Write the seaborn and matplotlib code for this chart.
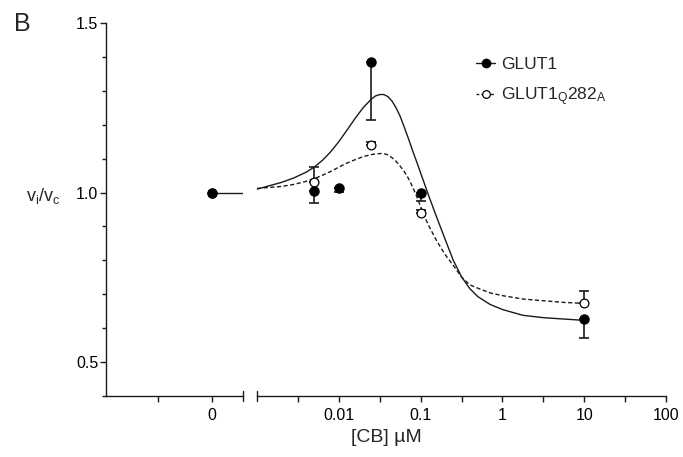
import numpy as np
import pandas as pd
import matplotlib
matplotlib.use("Agg")
import matplotlib.pyplot as plt
from matplotlib.lines import Line2D
from matplotlib.ticker import FixedLocator, FixedFormatter, LogLocator, MultipleLocator, NullFormatter
import seaborn as sns

# ---- data -------------------------------------------------------------
series_names = ["GLUT1", "GLUT1$_\\mathrm{Q}$282$_\\mathrm{A}$"]

# measured transport ratios vs cytochalasin B (µM)
conc_wt = [0.005, 0.01, 0.025, 0.1, 10]
ratio_wt = [1.005, 1.012, 1.385, 1.0, 0.626]
sem_wt = [0.037, 0.010, 0.170, 0.025, 0.055]

conc_mut = [0.005, 0.025, 0.1, 10]
ratio_mut = [1.03, 1.14, 0.94, 0.673]
sem_mut = [0.044, 0.008, 0.010, 0.037]

# no-inhibitor controls
control_conc = [0]
control_wt = [1.0]
control_mut = [1.0]

# fitted curves, log10 of concentration (µM)
fit_log_conc = [-3.0, -2.7, -2.55, -2.4, -2.3, -2.2, -2.1, -2.0, -1.9, -1.8,
                -1.7, -1.6, -1.55, -1.5, -1.45, -1.4, -1.35, -1.3, -1.25, -1.2,
                -1.15, -1.1, -1.05, -1.0, -0.95, -0.9, -0.8, -0.7, -0.6, -0.5,
                -0.4, -0.3, -0.15, 0.0, 0.25, 0.5, 0.75, 1.0]
fit_wt = [1.010, 1.030, 1.043, 1.060, 1.075, 1.095, 1.120, 1.150, 1.184, 1.219,
          1.251, 1.276, 1.285, 1.289, 1.289, 1.283, 1.270, 1.250, 1.225, 1.193,
          1.160, 1.125, 1.092, 1.058, 1.024, 0.990, 0.925, 0.862, 0.800, 0.752,
          0.717, 0.693, 0.670, 0.655, 0.638, 0.631, 0.627, 0.623]
fit_mut = [1.012, 1.018, 1.024, 1.033, 1.041, 1.051, 1.062, 1.075, 1.087, 1.097,
           1.106, 1.112, 1.114, 1.115, 1.115, 1.111, 1.103, 1.092, 1.078, 1.062,
           1.042, 1.018, 0.990, 0.958, 0.928, 0.902, 0.856, 0.817, 0.785, 0.751,
           0.728, 0.718, 0.704, 0.696, 0.686, 0.681, 0.676, 0.673]

x_ticks = [0.01, 0.1, 1, 10, 100]
x_tick_labels = ["0.01", "0.1", "1", "10", "100"]
left_ticks = [-1, 0]
left_tick_labels = ["", "0"]
y_ticks = [0.5, 1.0, 1.5]
y_tick_labels = ["0.5", "1.0", "1.5"]

# ---- style ------------------------------------------------------------
sns.set_theme(style="ticks")
plt.rcParams["font.family"] = ["Liberation Sans", "DejaVu Sans"]
plt.rcParams["mathtext.fontset"] = "custom"
plt.rcParams["mathtext.rm"] = "Liberation Sans"
plt.rcParams["mathtext.it"] = "Liberation Sans:italic"
plt.rcParams["axes.linewidth"] = 1.0
ink = "#1a1a1a"

W, H = 683, 457
fig = plt.figure(figsize=(W / 100, H / 100), dpi=100)
fig.patch.set_facecolor("white")
ax_l = fig.add_axes([106 / W, 61 / H, 137 / W, 373 / H])
ax_r = fig.add_axes([257 / W, 61 / H, 409 / W, 373 / H])

for ax in (ax_l, ax_r):
    ax.set_facecolor("white")
    ax.set_ylim(0.4, 1.5)
    for s in ax.spines.values():
        s.set_color(ink)
        s.set_linewidth(1.0)

# ---- left panel: control ---------------------------------------------
ax_l.set_xlim(-1.963, 0.574)
ax_l.hlines(control_wt, xmin=control_conc[0], xmax=ax_l.get_xlim()[1],
            color=ink, lw=1.0, zorder=2)
sns.scatterplot(x=control_conc, y=control_mut, marker="o", s=40, color="white",
                edgecolor="black", linewidth=0.9, ax=ax_l, zorder=4, legend=False)
sns.scatterplot(x=control_conc, y=control_wt, marker="o", s=45, color="black",
                edgecolor="black", linewidth=0.8, ax=ax_l, zorder=5, legend=False)
ax_l.xaxis.set_major_locator(FixedLocator(left_ticks))
ax_l.xaxis.set_major_formatter(FixedFormatter(left_tick_labels))
ax_l.yaxis.set_major_locator(FixedLocator(y_ticks))
ax_l.yaxis.set_major_formatter(FixedFormatter(y_tick_labels))
ax_l.yaxis.set_minor_locator(MultipleLocator(0.1))
ax_l.spines["top"].set_visible(False)
ax_l.spines["right"].set_visible(False)
ax_l.set_xlabel("")
ax_l.set_ylabel("")

# ---- right panel: dose response --------------------------------------
ax_r.set_xscale("log")
fit_conc = 10 ** np.array(fit_log_conc)
n = len(fit_conc)
fit_df = pd.DataFrame({
    "conc": np.concatenate([fit_conc, fit_conc]),
    "ratio": fit_wt + fit_mut,
    "construct": [series_names[0]] * n + [series_names[1]] * n,
})
sns.lineplot(data=fit_df, x="conc", y="ratio", style="construct",
             style_order=series_names,
             dashes={series_names[0]: "", series_names[1]: (3, 1.8)},
             color=ink, linewidth=1.0, estimator=None, sort=True,
             legend=False, ax=ax_r, zorder=2)

ax_r.errorbar(conc_mut, ratio_mut, yerr=[[0] * len(sem_mut), sem_mut], fmt="none",
              ecolor=ink, elinewidth=1.2, capsize=3.5, capthick=1.2, zorder=3)
ax_r.errorbar(conc_wt, ratio_wt, yerr=[sem_wt, [0] * len(sem_wt)], fmt="none",
              ecolor=ink, elinewidth=1.2, capsize=3.5, capthick=1.2, zorder=3)
sns.scatterplot(x=conc_mut, y=ratio_mut, marker="o", s=40, color="white",
                edgecolor="black", linewidth=0.9, ax=ax_r, zorder=4, legend=False)
sns.scatterplot(x=conc_wt, y=ratio_wt, marker="o", s=45, color="black",
                edgecolor="black", linewidth=0.8, ax=ax_r, zorder=5, legend=False)

ax_r.set_xlim(0.001, 100)
ax_r.xaxis.set_major_locator(FixedLocator(x_ticks))
ax_r.xaxis.set_major_formatter(FixedFormatter(x_tick_labels))
ax_r.xaxis.set_minor_locator(LogLocator(base=10, subs=(10 ** 0.5,)))
ax_r.xaxis.set_minor_formatter(NullFormatter())
ax_r.spines["top"].set_visible(False)
ax_r.spines["right"].set_visible(False)
ax_r.spines["left"].set_visible(False)
ax_r.tick_params(axis="y", which="both", left=False, labelleft=False)
ax_r.set_xlabel("")
ax_r.set_ylabel("")

for ax in (ax_l, ax_r):
    ax.tick_params(axis="x", which="both", direction="out", length=4.5, width=1.0,
                   pad=4, labelsize=11.5, colors=ink, labelcolor="black")
ax_l.tick_params(axis="y", which="major", direction="out", length=4, width=1.0,
                 pad=1.5, labelsize=11.5, colors=ink, labelcolor="black")
ax_l.tick_params(axis="y", which="minor", direction="out", length=3, width=1.0,
                 colors=ink)

# axis-break marks
ax_l.plot([1, 1], [-0.014, 0.014], transform=ax_l.transAxes, color=ink, lw=1.0,
          clip_on=False)
ax_r.plot([0, 0], [-0.014, 0.014], transform=ax_r.transAxes, color=ink, lw=1.0,
          clip_on=False)

# ---- labels ------------------------------------------------------------
fig.text(386 / W, 1 - 437 / H, "[CB] µM", ha="center", va="center", fontsize=14)
fig.text(43 / W, 1 - 196 / H, "v$_\\mathrm{i}$/v$_\\mathrm{c}$", ha="center",
         va="center", fontsize=13)
fig.text(14 / W, 1 - 24 / H, "B", ha="left", va="center", fontsize=18)

handles = [
    Line2D([], [], color=ink, lw=1.0, marker="o", ms=6, mfc="black", mec="black"),
    Line2D([], [], color=ink, lw=1.0, ls=(0, (2, 1.5)), marker="o", ms=5.5,
           mfc="white", mec="black", mew=0.9),
]
fig.legend(handles, series_names, loc="upper left",
           bbox_to_anchor=(476 / W, 1 - 57 / H), frameon=False,
           handlelength=1.1, handletextpad=0.35, labelspacing=0.75,
           borderpad=0, borderaxespad=0, fontsize=12.5)

fig.savefig("out.png", dpi=100, facecolor="white")
